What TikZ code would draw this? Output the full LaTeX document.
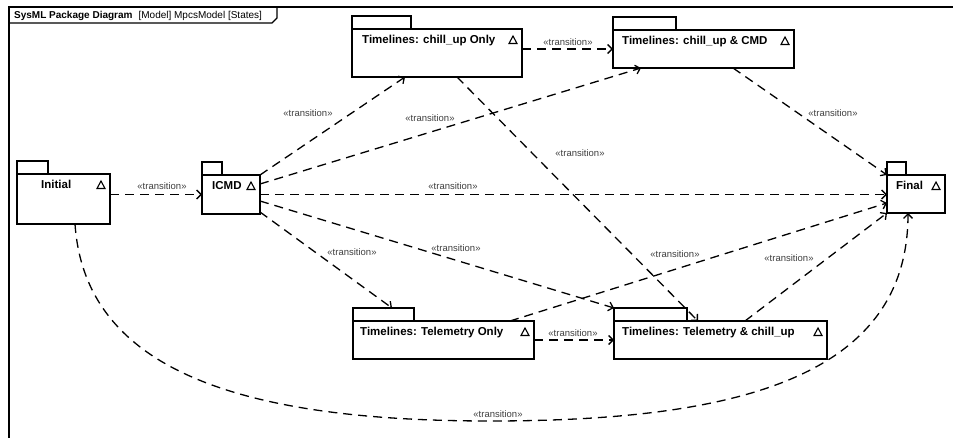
\documentclass[tikz,border=0pt]{standalone}
\usepackage{fontspec}
\setmainfont{Liberation Sans}
\usetikzlibrary{arrows.meta}

\tikzset{
  pkg/.style={draw, line width=1.2pt},
  pkgbody/.style={pkg, inner sep=0pt, outer sep=0pt},
  pkgname/.style={font=\bfseries\fontsize{11.5}{13}\selectfont, inner sep=0pt},
  trans/.style={line width=1.3pt, dash pattern=on 9pt off 6pt,
    -{Straight Barb[length=4.5pt,width=9pt]}},
  lbl/.style={font=\fontsize{9.5}{11}\selectfont, text=black!75, inner sep=1pt},
}

\begin{document}
\begin{tikzpicture}[x=1pt, y=-1pt]
  \useasboundingbox (0,0) rectangle (953,438);
  \fill[white] (0,0) rectangle (953,438);
  % diagram frame and header
  \draw[line width=1.2pt] (9,438) -- (9,7) -- (953,7);
  \draw[line width=1.2pt] (9,23) -- (272,23) -- (277,18) -- (277,7);
  \node[anchor=base west, inner sep=0pt, font=\fontsize{10}{12}\selectfont] (hdr) at (14,19)
    {{\bfseries SysML Package Diagram}\hspace{6pt}[Model] MpcsModel [States]};
  % packages
  \foreach \n/\x/\y/\w/\h/\t/\o/\s in {
      init/17/174/93/50/31/24/Initial,
      icmd/202/175/58/39/20/10/ICMD,
      cup/352/29/170/48/59/10/{Timelines: chill\_up Only},
      ccmd/613/30/181/38/63/9/{Timelines: chill\_up \& CMD},
      fin/887/175/58/38/19/9/Final,
      tel/353/321/181/38/61/7/{Timelines: Telemetry Only},
      tcu/614/321/213/38/73/8/{Timelines: Telemetry \& chill\_up}} {
    \draw[pkg] (\x,\y) rectangle ++(\t,-13);
    \node[pkgbody, minimum width=\w pt, minimum height=\h pt, anchor=north west] (\n) at (\x,\y) {};
    \node[pkgname, anchor=base west] (\n-name) at ([xshift=\o pt, yshift=-14.5pt]\n.north west) {\s};
    \draw[pkg, line width=1.1pt] ([xshift=-13pt, yshift=-14.5pt]\n.north east) -- ++(8,0) -- ++(-4,-7.5) -- cycle;
  }
  % transitions
  \draw[trans] (init.east |- icmd.west) -- (icmd.west);
  \draw[trans] (icmd.north east) -- ([xshift=53pt]cup.south west);
  \draw[trans] ([yshift=-9pt]icmd.north east) -- ([xshift=28pt]ccmd.south west);
  \draw[trans] (icmd.east) -- (fin.west |- icmd.east);
  \draw[trans] ([yshift=13pt]icmd.south east) -- ([yshift=13pt]tcu.north west);
  \draw[trans] ([yshift=2pt]icmd.south east) -- ([xshift=39pt,yshift=13pt]tel.north west);
  \draw[trans] (cup.east |- ccmd.west) -- (ccmd.west);
  \draw[trans] ([xshift=105pt]cup.south west) -- ([xshift=84pt]tcu.north west);
  \draw[trans] ([xshift=120pt]ccmd.south west) -- (fin.north west);
  \draw[trans] ([xshift=157pt]tel.north west) -- ([yshift=10pt]fin.south west);
  \draw[trans] ([xshift=131pt]tcu.north west) -- (fin.south west);
  \draw[trans] (tel.east) -- (tcu.west);
  \draw[trans] ([xshift=58pt]init.south west) .. controls (85,370) and (240,421) .. (490,421)
    .. controls (730,421) and (908,380) .. ([xshift=21pt]fin.south west);
  % labels
  \foreach \x/\y [count=\i] in {162/186, 308/113, 430/118, 453/186, 456/248, 352/252,
      568/42, 580/153, 833/113, 675/254, 789/258, 573/333, 498/414} {
    \node[lbl] (t\i) at (\x,\y) {«transition»};
  }
\end{tikzpicture}
\end{document}
